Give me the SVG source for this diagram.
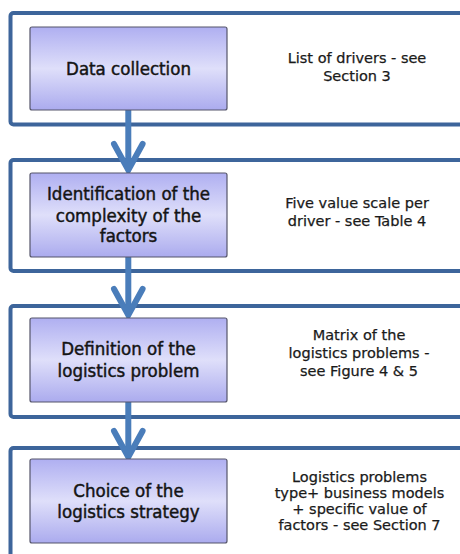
<svg xmlns="http://www.w3.org/2000/svg" width="460" height="554" viewBox="0 0 460 554">
<defs>
<linearGradient id="boxfill" x1="0" y1="0" x2="0" y2="1">
<stop offset="0" stop-color="#AFAFF1"/>
<stop offset="0.5" stop-color="#DFDFFA"/>
<stop offset="1" stop-color="#ABABEE"/>
</linearGradient>
<style>
.frame{fill:#FFFFFF;stroke:#3D659B;stroke-width:4}
.box{fill:url(#boxfill);stroke:#55556A;stroke-width:1.2}
.btxt{font-family:"DejaVu Sans Condensed","DejaVu Sans",sans-serif;font-size:18.5px;fill:#141414;stroke:#141414;stroke-width:0.45;text-anchor:middle}
.rtxt{font-family:"DejaVu Sans",sans-serif;font-size:14.5px;fill:#1A1A1A;stroke:#1A1A1A;stroke-width:0.25;text-anchor:middle}
.shaft{stroke:#4A7DBA;stroke-width:6;fill:none}
.head{stroke:#4A7DBA;stroke-width:6;fill:none;stroke-linecap:round;stroke-linejoin:miter}
</style>
</defs>
<rect width="460" height="554" fill="#FFFFFF"/>
<g id="frames">
<rect class="frame" x="10.5" y="13" width="470" height="111.5" rx="3"/>
<rect class="frame" x="10.5" y="160" width="470" height="111" rx="3"/>
<rect class="frame" x="10.5" y="306" width="470" height="111" rx="3"/>
<rect class="frame" x="10.5" y="448" width="470" height="150" rx="3"/>
</g>
<g id="connectors">
<line class="shaft" x1="128.3" y1="110" x2="128.3" y2="166"/>
<polyline class="head" points="114,144 128.3,170 142.6,144"/>
<line class="shaft" x1="128.3" y1="257" x2="128.3" y2="311"/>
<polyline class="head" points="114,289 128.3,315 142.6,289"/>
<line class="shaft" x1="128.3" y1="402" x2="128.3" y2="453"/>
<polyline class="head" points="114,431 128.3,457 142.6,431"/>
</g>
<g id="step1">
<rect class="box" x="30" y="27" width="197" height="83" rx="2"/>
<text class="btxt" x="128.5" y="75">Data collection</text>
<text class="rtxt" x="357" y="63">List of drivers - see</text>
<text class="rtxt" x="357" y="80.5">Section 3</text>
</g>
<g id="step2">
<rect class="box" x="30" y="173" width="197" height="84" rx="2"/>
<text class="btxt" x="128.5" y="200">Identification of the</text>
<text class="btxt" x="128.5" y="221.5">complexity  of the</text>
<text class="btxt" x="128.5" y="242">factors</text>
<text class="rtxt" x="357" y="207.5">Five value scale per</text>
<text class="rtxt" x="357" y="225.5">driver - see Table 4</text>
</g>
<g id="step3">
<rect class="box" x="30" y="318" width="197" height="84" rx="2"/>
<text class="btxt" x="128.5" y="355">Definition of the</text>
<text class="btxt" x="128.5" y="376.5">logistics problem</text>
<text class="rtxt" x="359" y="340">Matrix of the</text>
<text class="rtxt" x="359" y="358">logistics problems -</text>
<text class="rtxt" x="359" y="375.5">see Figure 4 &amp; 5</text>
</g>
<g id="step4">
<rect class="box" x="30" y="459" width="197" height="84" rx="2"/>
<text class="btxt" x="128.5" y="496.5">Choice of the</text>
<text class="btxt" x="128.5" y="518">logistics strategy</text>
<text class="rtxt" x="359.5" y="482">Logistics problems</text>
<text class="rtxt" x="359.5" y="498">type+ business models</text>
<text class="rtxt" x="359.5" y="514">+ specific value of</text>
<text class="rtxt" x="359.5" y="530">factors - see Section 7</text>
</g>
</svg>
